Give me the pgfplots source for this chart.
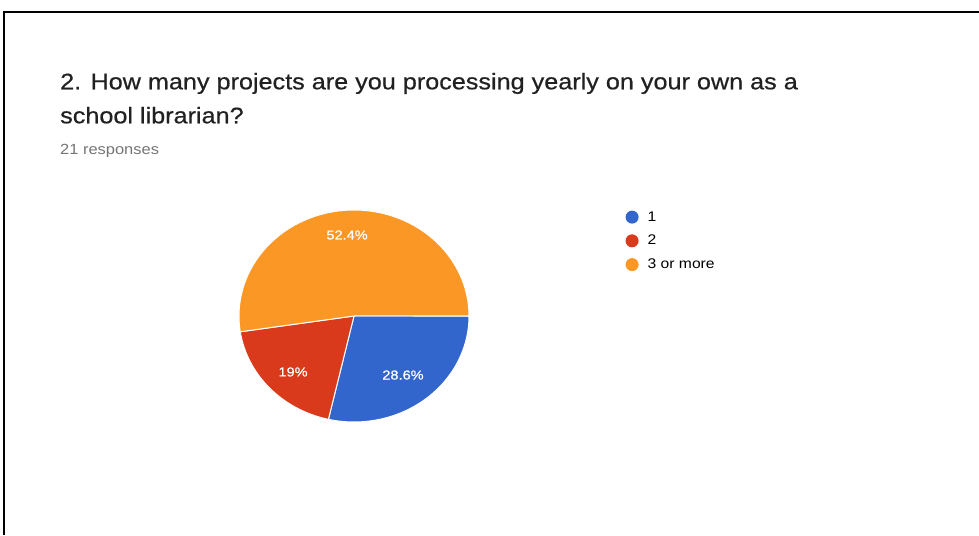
\documentclass[border=0pt]{standalone}
\usepackage{pgfplots}
\pgfplotsset{compat=1.18}
\usepackage{fontspec}
\setmainfont{Liberation Sans}[FakeStretch=1.12]
\newfontfamily\titlefont{Liberation Sans}[FakeStretch=1.12, FakeBold=0.6]

\definecolor{gblue}{HTML}{3366CC}
\definecolor{gred}{HTML}{DA3A1C}
\definecolor{gorange}{HTML}{FB9725}
\definecolor{titletext}{HTML}{212121}
\definecolor{subtext}{HTML}{757575}

% responses per answer (21 in all)
\def\nOne{6}
\def\nTwo{4}
\def\nThree{11}
\pgfmathsetmacro\nTotal{\nOne+\nTwo+\nThree}
\pgfmathsetmacro\angThree{360*\nThree/\nTotal}
\pgfmathsetmacro\angTwo{\angThree+360*\nTwo/\nTotal}

\begin{document}
\begin{tikzpicture}[x=1pt,y=1pt]
\useasboundingbox (0,0) rectangle (979,535);
\fill[white] (0,0) rectangle (979,535);
\draw[line width=2pt] (4,0) -- (4,523) -- (979,523);
\node[anchor=base west, inner sep=0, text=titletext, font=\titlefont\fontsize{22.5}{26}\selectfont] at (60,445.7) {2. How many projects are you processing yearly on your own as a};
\node[anchor=base west, inner sep=0, text=titletext, font=\titlefont\fontsize{22.5}{26}\selectfont] at (60,411.7) {school librarian?};
\node[anchor=base west, inner sep=0, text=subtext, font=\fontsize{14.7}{17}\selectfont] at (60,380) {21 responses};
\begin{axis}[
  at={(354pt,219pt)}, anchor=origin,
  scale only axis, width=230pt, height=212pt,
  xmin=-1, xmax=1, ymin=-1, ymax=1,
  hide axis, clip=false,
  legend style={at={(axis description cs:1.68,1.003)}, anchor=north west,
    draw=none, fill=none, font=\fontsize{14}{16}\selectfont,
    inner sep=0pt, row sep=8.5pt, column sep=7pt},
  legend cell align=left,
  legend image code/.code={\fill[#1,draw=none] (6.5pt,0pt) circle (6.5pt);},
]
\addplot[fill=gblue, draw=white, line width=1pt, domain=\angTwo:360, samples=60, variable=\t]
  ({cos(\t)},{sin(\t)}) -- (axis cs:0,0) -- cycle;
\addlegendentry{1}
\addplot[fill=gred, draw=white, line width=1pt, domain=\angThree:\angTwo, samples=40, variable=\t]
  ({cos(\t)},{sin(\t)}) -- (axis cs:0,0) -- cycle;
\addlegendentry{2}
\addplot[fill=gorange, draw=white, line width=1pt, domain=0:\angThree, samples=90, variable=\t]
  ({cos(\t)},{sin(\t)}) -- (axis cs:0,0) -- cycle;
\addlegendentry{3 or more}
\node[text=white, font=\titlefont\fontsize{13}{15}\selectfont] at (axis cs:-0.06,0.764) {52.4\%};
\node[text=white, font=\titlefont\fontsize{13}{15}\selectfont] at (axis cs:-0.53,-0.528) {19\%};
\node[text=white, font=\titlefont\fontsize{13}{15}\selectfont] at (axis cs:0.426,-0.557) {28.6\%};
\end{axis}
\end{tikzpicture}
\end{document}
